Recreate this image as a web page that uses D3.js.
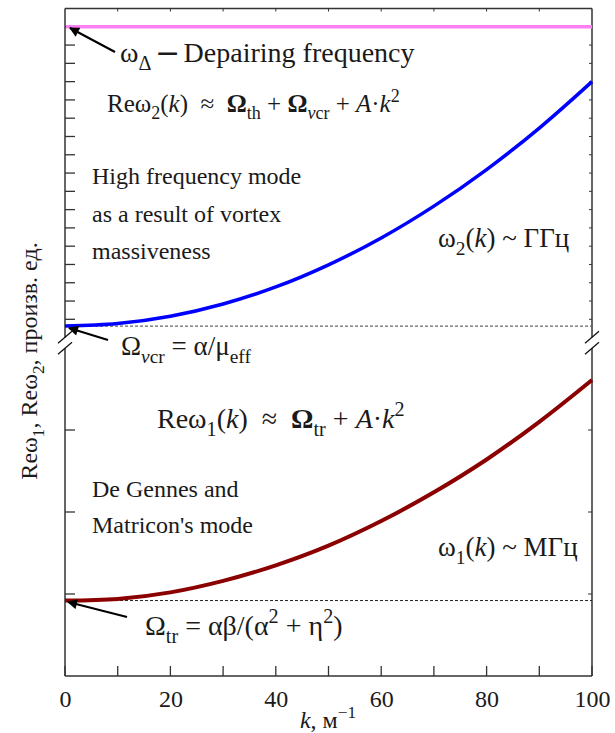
<!DOCTYPE html>
<html><head><meta charset="utf-8">
<script src="https://cdn.jsdelivr.net/npm/d3@7"></script>
<style>
body{margin:0;background:#fff;}
svg text, svg tspan{font-family:"Liberation Serif","DejaVu Serif",serif;fill:#1a1a1a;}
</style></head>
<body><svg id="c" width="615" height="733" font-family="Liberation Serif"></svg>
<script>
// ---- data ----
const kValues = [0, 10, 20, 30, 40, 50, 60, 70, 80, 90, 100];
const omega2Values = [0.63, 0.77, 1.17, 1.84, 2.77, 3.98, 5.45, 7.19, 9.19, 11.46, 14.0]; // upper panel units
const omega1Values = [0.92, 0.94, 1.02, 1.16, 1.35, 1.59, 1.89, 2.24, 2.64, 3.10, 3.61]; // lower panel units
const depairingLevel = 17;
const omegaVcrLevel = 0.63;
const omegaTrLevel = 0.92;
const xTickLabels = [0, 20, 40, 60, 80, 100];
const xMinorTicks = [10, 30, 50, 70, 90];
const upperYTicks = [1,2,3,4,5,6,7,8,9,10,11,12,13,14,15,16,17];
const lowerYTicks = [1, 2, 3];

const FONT = '"Liberation Serif","DejaVu Serif",serif';
const svg = d3.select('#c');
const L = 65, R = 592, T = 8.5, B = 676;
const x = d3.scaleLinear().domain([0, 100]).range([L, R]);
const yUp = d3.scaleLinear().domain([0, 18]).range([337.6, T]);
const yLo = d3.scaleLinear().domain([0, 4]).range([B, 348]);
const axisColor = '#333';

svg.append('defs').append('marker').attr('id','ah').attr('viewBox','0 0 10 10')
  .attr('refX',9).attr('refY',5).attr('markerWidth',6).attr('markerHeight',5)
  .attr('orient','auto').attr('markerUnits','strokeWidth')
  .append('path').attr('d','M0,0 L10,5 L0,10 Z').attr('fill','#000');

// ---- frame ----
const g = svg.append('g');
g.append('line').attr('x1',L).attr('x2',R).attr('y1',T).attr('y2',T).attr('stroke',axisColor).attr('stroke-width',1.5);
g.append('line').attr('x1',L).attr('x2',R).attr('y1',B).attr('y2',B).attr('stroke',axisColor).attr('stroke-width',1.5);
[L, R].forEach(xx => {
  g.append('line').attr('x1',xx).attr('x2',xx).attr('y1',T).attr('y2',yUp(0)).attr('stroke',axisColor).attr('stroke-width',1.5);
  g.append('line').attr('x1',xx).attr('x2',xx).attr('y1',yLo(4)).attr('y2',B).attr('stroke',axisColor).attr('stroke-width',1.5);
});

// bottom axis labels
const xb = d3.axisBottom(x).tickValues(xTickLabels).tickSize(0).tickPadding(0).tickFormat(d3.format('d'));
const xAxisG = svg.append('g').attr('transform',`translate(0,${B})`).call(xb);
xAxisG.attr('font-family', FONT);
xAxisG.select('.domain').remove();
xAxisG.selectAll('text').style('font-size','24px').style('font-family',FONT).attr('fill','#1a1a1a').attr('dy','0').attr('y', 31);
[...xTickLabels, ...xMinorTicks].forEach(v => {
  g.append('line').attr('x1',x(v)).attr('x2',x(v)).attr('y1',B).attr('y2',B-10).attr('stroke',axisColor).attr('stroke-width',1.3);
});
d3.range(10, 100, 10).forEach(v => {
  g.append('line').attr('x1',x(v)).attr('x2',x(v)).attr('y1',T).attr('y2',T+3).attr('stroke',axisColor).attr('stroke-width',1);
});
upperYTicks.forEach(v => {
  g.append('line').attr('x1',L).attr('x2',L+10).attr('y1',yUp(v)).attr('y2',yUp(v)).attr('stroke',axisColor).attr('stroke-width',1.3);
  g.append('line').attr('x1',R).attr('x2',R-3).attr('y1',yUp(v)).attr('y2',yUp(v)).attr('stroke',axisColor).attr('stroke-width',1);
});
lowerYTicks.forEach(v => {
  g.append('line').attr('x1',L).attr('x2',L+10).attr('y1',yLo(v)).attr('y2',yLo(v)).attr('stroke',axisColor).attr('stroke-width',1.3);
  g.append('line').attr('x1',R).attr('x2',R-4).attr('y1',yLo(v)).attr('y2',yLo(v)).attr('stroke',axisColor).attr('stroke-width',1);
});
const bc = (yUp(0) + yLo(4)) / 2;
[L, R].forEach(xx => {
  [-5.5, 5.5].forEach(o => {
    g.append('line').attr('x1',xx-7).attr('x2',xx+7).attr('y1',bc+o+6).attr('y2',bc+o-6)
      .attr('stroke','#111').attr('stroke-width',1.3);
  });
});

// ---- reference lines ----
svg.append('line').attr('x1',x(0)).attr('x2',x(100)).attr('y1',yUp(omegaVcrLevel)).attr('y2',yUp(omegaVcrLevel))
  .attr('stroke','#666').attr('stroke-width',1.3).attr('stroke-dasharray','3,2');
svg.append('line').attr('x1',x(0)).attr('x2',x(100)).attr('y1',yLo(omegaTrLevel)).attr('y2',yLo(omegaTrLevel))
  .attr('stroke','#222').attr('stroke-width',1).attr('stroke-dasharray','3,2');
svg.append('line').attr('x1',x(0)+1).attr('x2',x(100)).attr('y1',yUp(depairingLevel)).attr('y2',yUp(depairingLevel))
  .attr('stroke','#ff80f5').attr('stroke-width',3.5);

// ---- curves ----
const up = kValues.map((k,i)=>[k, omega2Values[i]]);
const lo = kValues.map((k,i)=>[k, omega1Values[i]]);
svg.append('path').datum(up).attr('fill','none').attr('stroke','#0000ff').attr('stroke-width',3.5)
  .attr('d', d3.line().x(d=>x(d[0])).y(d=>yUp(d[1])).curve(d3.curveCatmullRom));
svg.append('path').datum(lo).attr('fill','none').attr('stroke','#8b0000').attr('stroke-width',4)
  .attr('d', d3.line().x(d=>x(d[0])).y(d=>yLo(d[1])).curve(d3.curveCatmullRom));

// ---- rich text helper: flags S=sub, P=sup, I=italic, B=bold, D=large ----
function rich(x0, y0, parts, size, anchor) {
  const t = svg.append('text').attr('x',x0).attr('y',y0).style('font-size',size+'px').style('font-family',FONT);
  if (anchor) t.attr('text-anchor', anchor);
  let cur = 0;
  parts.forEach(p => {
    const txt = p[0], m = p[1] || '';
    let off = 0, fs = size;
    if (m.includes('S')) { off = size*0.28; fs = size*0.72; }
    if (m.includes('P')) { off = -size*0.42; fs = size*0.72; }
    if (m.includes('D')) { fs = size*1.3; }
    const ts = t.append('tspan').text(txt).attr('dy', off - cur).style('font-size', fs+'px').style('font-family',FONT);
    if (m.includes('I')) ts.style('font-style','italic');
    if (m.includes('B')) ts.style('font-weight','bold');
    cur = off;
  });
  return t;
}

const FS = 24;
const SP = '\u2002';
rich(120, 62, [['ω'],['Δ','S'],[' '],['–','BD'],[' Depairing frequency']], 28);
rich(107, 112, [['Reω'],['2','S'],['('],['k','I'],[')'+SP+'≈'+SP],['Ω','B'],['th','S'],[' + '],['Ω','B'],['v','SI'],['cr','S'],[' + '],['A','I'],['·'],['k','I'],['2','P']], 25);
rich(92, 184, [['High frequency mode']], FS);
rich(92, 222, [['as a result of vortex']], FS);
rich(92, 259, [['massiveness']], FS);
rich(438, 247, [['ω'],['2','S'],['('],['k','I'],[') ~ ГГц']], 27);
rich(121, 355, [['Ω'],['v','SI'],['cr','S'],[' = α/μ'],['eff','S']], 27);
rich(157, 428, [['Reω'],['1','S'],['('],['k','I'],[')'+SP+'≈'+SP],['Ω','B'],['tr','S'],[' + '],['A','I'],['·'],['k','I'],['2','P']], 28);
rich(92, 497, [['De Gennes and']], FS);
rich(92, 533, [["Matricon's mode"]], FS);
rich(438, 556, [['ω'],['1','S'],['('],['k','I'],[') ~ МГц']], 27);
rich(145, 635, [['Ω'],['tr','S'],[' = αβ/(α'],['2','P'],[' + η'],['2','P'],[')']], 28);

rich(328, 728, [['k','I'],[', м'],['−1','P']], FS, 'middle');
const yl = rich(0, 0, [['Reω'],['1','S'],[', Reω'],['2','S'],[', произв. ед.']], FS, 'middle');
yl.attr('transform','translate(37,361) rotate(-90)');

function arrow(x1,y1,x2,y2){
  svg.append('line').attr('x1',x1).attr('y1',y1).attr('x2',x2).attr('y2',y2)
    .attr('stroke','#000').attr('stroke-width',2).attr('marker-end','url(#ah)');
}
arrow(115, 52, 70, 28);
arrow(108, 340, 69, 328);
arrow(127, 617, 68, 602);
</script></body></html>
